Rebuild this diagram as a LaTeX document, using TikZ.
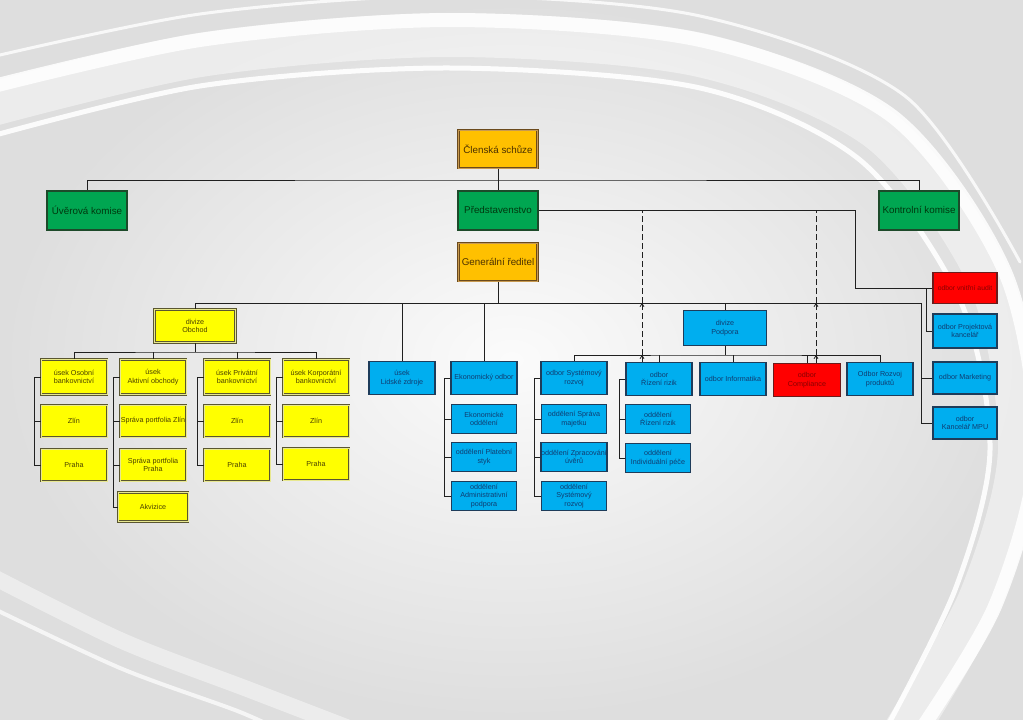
\documentclass[tikz,border=0pt]{standalone}
\usepackage{fontspec}
\setmainfont{Liberation Sans}
\usetikzlibrary{arrows.meta}

\definecolor{orgfill}{HTML}{FFC000}
\definecolor{orgline}{HTML}{6B4A1C}
\definecolor{orgmid}{HTML}{C89A50}
\definecolor{orgtext}{HTML}{4A3000}
\definecolor{grnfill}{HTML}{00A651}
\definecolor{grnline}{HTML}{1D4A2A}
\definecolor{grntext}{HTML}{00380F}
\definecolor{yelfill}{HTML}{FFFF00}
\definecolor{yelline}{HTML}{5A5630}
\definecolor{yelmid}{HTML}{E8E890}
\definecolor{yeltext}{HTML}{4A4000}
\definecolor{bluefill}{HTML}{00AEEF}
\definecolor{blueline}{HTML}{1E3C5A}
\definecolor{bluetext}{HTML}{103C70}
\definecolor{redfill}{HTML}{FF0000}
\definecolor{redline}{HTML}{6A1C1C}
\definecolor{redtext}{HTML}{8A0000}
\definecolor{linkcol}{HTML}{202020}

\tikzset{
  unit/.style={draw, align=center, inner sep=0.5pt, font=\fontsize{7.2}{8.4}\selectfont},
  orgbox/.style={unit, fill=orgfill, draw=orgline, line width=1pt, double=orgmid,
    double distance=0.9pt, text=orgtext, minimum width=79pt, minimum height=38pt,
    font=\fontsize{9.8}{11}\selectfont},
  grnbox/.style={unit, fill=grnfill, draw=grnline, line width=2pt, text=grntext,
    minimum width=80pt, minimum height=39pt, font=\fontsize{9.8}{11}\selectfont},
  yelbox/.style={unit, fill=yelfill, draw=yelline, line width=1pt, double=yelmid,
    double distance=0.8pt, text=yeltext, minimum width=66pt, minimum height=35pt},
  bluebox/.style={unit, fill=bluefill, draw=blueline, line width=1.8pt, text=bluetext,
    minimum width=66pt, minimum height=33pt},
  redbox/.style={bluebox, fill=redfill, draw=redline, text=redtext},
  subbox/.style={minimum height=29pt, minimum width=65pt},
  link/.style={draw=linkcol, line width=0.8pt},
  dashlink/.style={link, dash pattern=on 6pt off 3pt},
  uptip/.style={-{Straight Barb[length=3pt,width=4pt]}},
  swoosh/.style={white, line cap=round},
}

\begin{document}
\begin{tikzpicture}[x=1pt, y=-1pt]
    \useasboundingbox (0,0) rectangle (1023,720);

    % background with white swooshes
    \shade[inner color=white!97!gray, outer color=gray!26] (0,0) rectangle (1023,720);
    \begin{scope}
        \clip (0,0) rectangle (1023,720);
        \draw[swoosh, line width=44pt, opacity=0.45] plot[smooth] coordinates
            {(-30,110) (200,55) (450,35) (700,55) (880,130) (990,280) (1020,450) (980,600) (900,740)};
        \draw[swoosh, line width=14pt, opacity=0.85] plot[smooth] coordinates
            {(-30,92) (200,40) (450,20) (700,40) (892,116) (1005,272) (1036,450) (995,606) (914,740)};
        \draw[swoosh, line width=5pt, opacity=0.9] plot[smooth] coordinates
            {(-30,142) (200,86) (450,68) (700,88) (860,160) (960,300) (990,450) (955,590) (880,740)};
        \draw[swoosh, line width=3pt, opacity=0.8] plot[smooth] coordinates
            {(-30,62) (200,14) (450,-4) (700,16) (905,96) (1020,262)};
        \draw[swoosh, line width=16pt, opacity=0.45] plot[smooth] coordinates
            {(-20,570) (120,640) (250,690) (380,740)};
        \draw[swoosh, line width=4pt, opacity=0.7] plot[smooth] coordinates
            {(-20,602) (120,668) (240,712) (300,740)};
    \end{scope}

    % top level
    \node[orgbox] (clen) at (498,149) {Členská schůze};
    \node[grnbox] (uver) at (87,210) {Úvěrová komise};
    \node[grnbox] (pred) at (498,210) {Představenstvo};
    \node[grnbox] (kontr) at (919,210) {Kontrolní komise};
    \node[orgbox] (gen) at (498,262) {Generální ředitel};

    % divize Obchod
    \node[yelbox, minimum width=81pt, minimum height=33pt] (obchod) at (195,326) {divize\\Obchod};
    \node[yelbox] (osob) at (74,377) {úsek Osobní\\bankovnictví};
    \node[yelbox, minimum height=32pt] (osobzl) at (74,421) {Zlín};
    \node[yelbox, minimum height=32pt] (osobpr) at (74,465) {Praha};
    \node[yelbox] (aktiv) at (153,377) {úsek\\Aktivní obchody};
    \node[yelbox, minimum height=32pt] (aktivzl) at (153,421) {Správa portfolia Zlín};
    \node[yelbox, minimum height=32pt] (aktivpr) at (153,465) {Správa portfolia\\Praha};
    \node[yelbox, minimum width=70pt, minimum height=29pt] (akviz) at (153,507) {Akvizice};
    \node[yelbox] (priv) at (237,377) {úsek Privátní\\bankovnictví};
    \node[yelbox, minimum height=32pt] (privzl) at (237,421) {Zlín};
    \node[yelbox, minimum height=32pt] (privpr) at (237,465) {Praha};
    \node[yelbox] (korp) at (316,377) {úsek Korporátní\\bankovnictví};
    \node[yelbox, minimum height=32pt] (korpzl) at (316,421) {Zlín};
    \node[yelbox, minimum height=32pt] (korppr) at (316,464) {Praha};

    % units under the director
    \node[bluebox] (lidske) at (402,378) {úsek\\Lidské zdroje};
    \node[bluebox] (ekon) at (484,378) {Ekonomický odbor};
    \node[bluebox, subbox] (ekonodd) at (484,419) {Ekonomické\\oddělení};
    \node[bluebox, subbox] (platebni) at (484,457) {oddělení Platební\\styk};
    \node[bluebox, subbox] (admin) at (484,496) {oddělení\\Administrativní\\podpora};

    % divize Podpora
    \node[bluebox, minimum width=83pt, minimum height=35pt] (podpora) at (725,328) {divize\\Podpora};
    \node[bluebox] (system) at (574,378) {odbor Systémový\\rozvoj};
    \node[bluebox, subbox] (majetek) at (574,419) {oddělení Správa\\majetku};
    \node[bluebox, subbox] (zprac) at (574,457) {oddělení Zpracování\\úvěrů};
    \node[bluebox, subbox] (sysodd) at (574,496) {oddělení\\Systémový\\rozvoj};
    \node[bluebox] (rizik) at (659,379) {odbor\\Řízení rizik};
    \node[bluebox, subbox] (rizikodd) at (658,419) {oddělení\\Řízení rizik};
    \node[bluebox, subbox] (pece) at (658,458) {oddělení\\Individuální péče};
    \node[bluebox] (info) at (733,379) {odbor Informatika};
    \node[redbox, minimum width=67pt] (compl) at (807,380) {odbor\\Compliance};
    \node[bluebox] (rozvoj) at (880,379) {Odbor Rozvoj\\produktů};

    % right column
    \node[redbox, minimum width=64pt, minimum height=31pt, font=\fontsize{6.8}{8}\selectfont] (audit) at (965,288) {odbor vnitřní audit};
    \node[bluebox, minimum width=64pt, minimum height=34pt] (projekt) at (965,331) {odbor Projektová\\kancelář};
    \node[bluebox, minimum width=64pt, minimum height=32pt] (market) at (965,378) {odbor Marketing};
    \node[bluebox, minimum width=64pt, minimum height=32pt] (mpu) at (965,423) {odbor\\Kancelář MPU};

    % bus coordinates
    \coordinate (topbus) at (498,180);
    \coordinate (mainbus) at (498,303);
    \coordinate (rcol) at (921,303);
    \coordinate (auditturn) at (855,288);
    \coordinate (projturn) at (926,288);
    \coordinate (obus) at (195,352);
    \coordinate (pbus) at (725,355);
    \coordinate (dashA) at (642,211);
    \coordinate (dashB) at (816,211);

    % top connectors
    \draw[link] (uver.north) |- (topbus) -| (kontr.north);
    \draw[link] (clen) -- (pred);
    \draw[link] (pred.east) -| (auditturn) -- (audit.west);
    \draw[link] (projturn) |- (projekt.west);

    % director bus
    \draw[link] (gen.south) -- (mainbus);
    \draw[link] (obchod.north) |- (rcol) |- (mpu.west);
    \draw[link] (rcol |- market) -- (market.west);
    \foreach \unit in {lidske, ekon, podpora}
        \draw[link] (\unit.north) -- (\unit.north |- mainbus);

    % Obchod bus
    \draw[link] (obchod.south) -- (obus);
    \draw[link] (osob.north) |- (obus) -| (korp.north);
    \foreach \unit in {aktiv, priv}
        \draw[link] (\unit.north) -- (\unit.north |- obus);

    % Podpora bus
    \draw[link] (podpora.south) -- (pbus);
    \draw[link] (system.north) |- (pbus) -| (rozvoj.north);
    \foreach \unit in {rizik, info, compl}
        \draw[link] (\unit.north) -- (\unit.north |- pbus);

    % column connectors
    \foreach \head/\tail in {osob/osobzl, osob/osobpr, aktiv/aktivzl, aktiv/aktivpr,
        aktiv/akviz, priv/privzl, priv/privpr, korp/korpzl, korp/korppr,
        ekon/ekonodd, ekon/platebni, ekon/admin, system/majetek, system/zprac,
        system/sysodd, rizik/rizikodd, rizik/pece}
        \draw[link] (\head.west) -- ++(-6,0) |- (\tail.west);

    % dashed reporting lines
    \foreach \d/\unit in {dashA/rizik, dashB/compl} {
        \draw[dashlink, uptip] (\d |- \unit.north) -- (\d |- pbus);
        \draw[dashlink, uptip] (\d |- pbus) -- (\d |- mainbus);
        \draw[dashlink] (\d |- mainbus) -- (\d);
    }
\end{tikzpicture}
\end{document}
